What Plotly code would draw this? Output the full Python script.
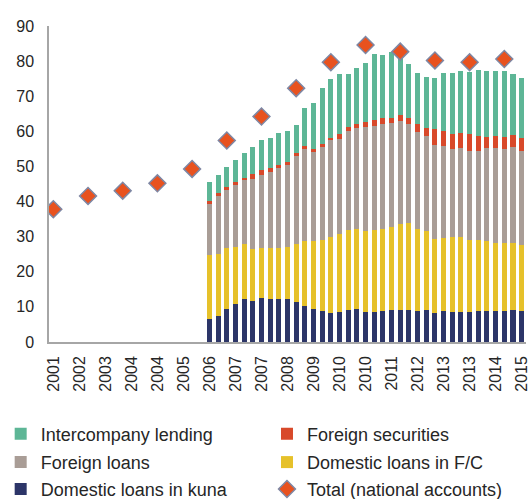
import plotly.graph_objects as go

# Quarterly periods shown on the category axis (2001Q4 .. 2015Q2)
periods = ["%dQ%d" % (y, q) for y in range(2001, 2016) for q in range(1, 5)]
periods = periods[periods.index("2001Q4"):periods.index("2015Q2") + 1]

# Bar periods: 2006Q2 .. 2015Q2
bar_periods = periods[periods.index("2006Q2"):]

kuna = [6.6, 7.3, 9.5, 10.8, 12.3, 11.7, 12.4, 12.3, 12.2, 12.3, 11.3, 10.3, 9.3, 8.8, 8.4, 8.6,
        9.2, 9.5, 8.5, 8.5, 8.7, 9.1, 9.1, 9.1, 8.9, 9.1, 8.4, 8.7, 8.6, 8.5, 8.5, 8.9, 8.9, 8.9,
        8.9, 9.1, 8.8]
dom_fc = [18.2, 17.9, 17.2, 16.4, 15.5, 14.9, 14.5, 14.5, 14.7, 14.8, 16.6, 18.5, 19.4, 20.3, 21.5,
          22.3, 22.6, 22.7, 23.1, 23.4, 23.5, 23.7, 24.6, 24.8, 23.2, 22.4, 20.9, 21.0, 21.3, 21.4,
          20.6, 20.2, 19.8, 19.4, 19.2, 19.2, 18.8]
foreign_loans = [14.5, 16.5, 16.6, 17.6, 18.3, 19.8, 20.7, 21.5, 22.6, 23.2, 25.2, 26.2, 25.5, 26.4,
                 27.6, 27.0, 28.2, 28.8, 29.6, 29.6, 29.8, 29.5, 29.2, 28.1, 27.7, 27.3, 26.8, 26.1,
                 25.1, 25.4, 25.4, 25.3, 26.5, 27.0, 26.9, 27.1, 26.8]
foreign_sec = [0.9, 0.6, 0.8, 0.8, 0.7, 1.4, 1.5, 1.2, 0.9, 0.9, 0.7, 0.8, 0.9, 0.9, 0.7, 1.3, 1.3,
               1.2, 1.5, 1.8, 1.8, 1.6, 1.8, 1.9, 2.4, 2.2, 4.6, 4.4, 4.3, 4.3, 4.6, 4.4, 3.3, 3.5,
               3.5, 3.6, 3.7]
intercompany = [5.3, 5.3, 5.8, 6.2, 6.9, 7.7, 8.5, 8.7, 9.2, 8.9, 8.1, 10.9, 13.0, 15.9, 16.7, 17.2,
                15.1, 15.9, 16.7, 18.6, 17.9, 18.7, 16.8, 15.2, 14.3, 14.5, 14.4, 16.3, 17.2, 17.6,
                17.7, 18.6, 18.6, 18.4, 18.6, 17.3, 17.2]

# Annual totals (national accounts), placed at Q4 of each year
total_years = list(range(2001, 2015))
total_values = [37.8, 41.6, 43.1, 45.2, 49.3, 57.4, 64.2, 72.3, 79.7, 84.6, 82.7, 80.2, 79.7, 80.6]
total_periods = ["%dQ4" % y for y in total_years]

# Tick labels: every third period, labelled by year
tick_periods = periods[::3]
tick_labels = [p[:4] for p in tick_periods]

colors = {
    "kuna": "#2C3568",
    "fc": "#E6C12A",
    "fl": "#A99D96",
    "sec": "#D8492A",
    "ic": "#5DB696",
}

fig = go.Figure()
# (name, values, colour, legend id)
series = [
    ("Domestic loans in kuna", kuna, colors["kuna"], "legend5"),
    ("Domestic loans in F/C", dom_fc, colors["fc"], "legend4"),
    ("Foreign loans", foreign_loans, colors["fl"], "legend3"),
    ("Foreign securities", foreign_sec, colors["sec"], "legend2"),
    ("Intercompany lending", intercompany, colors["ic"], "legend"),
]
for name, vals, col, leg in series:
    fig.add_trace(go.Bar(
        x=bar_periods, y=vals, name=name, marker_color=col,
        marker_line_width=0, legend=leg,
    ))

fig.add_trace(go.Scatter(
    x=total_periods, y=total_values, mode="markers", name="Total (national accounts)",
    marker=dict(symbol="diamond", size=13, color="#E8521F",
                line=dict(color="#7E87A4", width=1.5)),
    legend="legend6",
))

legend_common = dict(
    orientation="h", xanchor="left", yanchor="middle",
    font=dict(size=18, color="#262626"),
    bgcolor="rgba(0,0,0,0)",
)
col_x = [-0.1013, 0.457]
row_y = [-0.291, -0.381, -0.466]

fig.update_layout(
    width=528, height=499,
    margin=dict(l=49, r=2, t=26, b=157, autoexpand=False),
    barmode="stack", bargap=0.42,
    plot_bgcolor="white", paper_bgcolor="white",
    font=dict(family="Liberation Sans, Arial, sans-serif", size=16, color="#262626"),
    showlegend=True,
    legend=dict(legend_common, x=col_x[0], y=row_y[0]),
    legend2=dict(legend_common, x=col_x[1], y=row_y[0]),
    legend3=dict(legend_common, x=col_x[0], y=row_y[1]),
    legend4=dict(legend_common, x=col_x[1], y=row_y[1]),
    legend5=dict(legend_common, x=col_x[0], y=row_y[2]),
    legend6=dict(legend_common, x=col_x[1], y=row_y[2]),
    xaxis=dict(
        type="category", categoryorder="array", categoryarray=periods,
        range=[-0.5, len(periods) - 0.5],
        tickmode="array", tickvals=tick_periods, ticktext=tick_labels,
        tickangle=-90, showgrid=False, showline=True, linecolor="#A6A6A6", linewidth=1.5,
        ticks="", ticklabelstandoff=6, ticklabeloverflow="allow", tickfont=dict(size=16),
    ),
    yaxis=dict(
        range=[0, 90], dtick=10, showgrid=False, showline=True, linecolor="#A6A6A6",
        linewidth=1.5, ticks="", ticklabelstandoff=10, zeroline=False,
        tickfont=dict(size=16),
    ),
)

fig.write_html("out.html", config={"displayModeBar": False},
               post_script="document.body.style.margin='0';")
